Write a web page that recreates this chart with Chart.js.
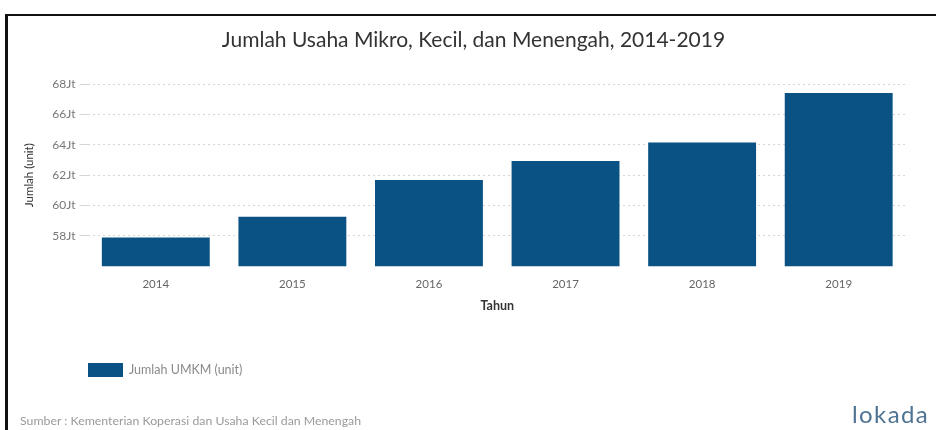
<!DOCTYPE html>
<html>
<head>
<meta charset="utf-8">
<script src="https://cdn.jsdelivr.net/npm/chart.js@4.4.1/dist/chart.umd.min.js"></script>
<style>
  html, body { margin: 0; padding: 0; background: #fff; }
  #wrap { position: relative; width: 936px; height: 430px; overflow: hidden; }
  #frame { position: absolute; left: 5px; top: 14px; width: 960px; height: 460px;
           border-left: 3px solid #111; border-top: 2px solid #111; box-sizing: border-box; }
  #chart { position: absolute; left: 0; top: 0; }
  #source { position: absolute; left: 20px; top: 413px; font: 12.3px Lato, sans-serif; color: #9a9a9a; white-space: nowrap; }
  #logo { position: absolute; left: 852px; top: 399px; font: 24px Lato, sans-serif; color: #4f7392; letter-spacing: 1.4px; }
</style>
</head>
<body>
<div id="wrap">
  <div id="frame"></div>
  <canvas id="chart" width="936" height="430"></canvas>
  <div id="source">Sumber : Kementerian Koperasi dan Usaha Kecil dan Menengah</div>
  <div id="logo">lokada</div>
</div>
<script>
// Number of micro, small and medium enterprises per year (millions of units)
const years = ['2014', '2015', '2016', '2017', '2018', '2019'];
const umkmMillions = [57.9, 59.26, 61.68, 62.93, 64.16, 67.42];
const seriesLabel = 'Jumlah UMKM (unit)';
const barColor = '#0a5283';

// Legend drawn below the plot, left aligned under the axis
const bottomLegend = {
  id: 'bottomLegend',
  afterDraw(chart) {
    const ctx = chart.ctx;
    chart.data.datasets.forEach((ds, i) => {
      const x = 88, y = 363 + i * 20;
      ctx.save();
      ctx.fillStyle = ds.backgroundColor;
      ctx.fillRect(x, y, 35, 14);
      ctx.fillStyle = '#8a8a8a';
      ctx.font = '12.5px Lato, sans-serif';
      ctx.textBaseline = 'middle';
      ctx.fillText(ds.label, x + 41, y + 7);
      ctx.restore();
    });
  }
};

// Nudge the title block slightly right so it sits centred over the page frame
const titleNudge = {
  id: 'titleNudge',
  afterLayout(chart) {
    const t = chart.titleBlock;
    if (t) { t.left += 10; t.right += 10; }
  }
};

new Chart(document.getElementById('chart'), {
  type: 'bar',
  data: {
    labels: years,
    datasets: [{
      label: seriesLabel,
      data: umkmMillions,
      backgroundColor: barColor,
      categoryPercentage: 1,
      barPercentage: 0.79
    }]
  },
  options: {
    responsive: false,
    animation: false,
    layout: { padding: { left: 20, right: 29, top: 0, bottom: 117 } },
    plugins: {
      legend: { display: false },
      tooltip: { enabled: false },
      title: {
        display: true,
        text: 'Jumlah Usaha Mikro, Kecil, dan Menengah, 2014-2019',
        color: '#333',
        font: { family: 'Lato', size: 21, weight: 'normal' },
        padding: { top: 28, bottom: 31 }
      }
    },
    scales: {
      x: {
        grid: { display: false, drawTicks: false },
        border: { display: false },
        ticks: { color: '#666', font: { family: 'Lato', size: 11.5 }, padding: 11 },
        title: { display: true, text: 'Tahun', color: '#333', font: { family: 'Lato', size: 12.5, weight: 'bold' }, padding: { top: -4, bottom: 0 } }
      },
      y: {
        min: 56,
        max: 68,
        afterFit(scale) { scale.width = 67.5; },
        grid: { color: '#d6d6d6', tickLength: 8, drawTicks: true, tickColor: '#d6d6d6' },
        border: { display: false, dash: [2, 3] },
        ticks: {
          stepSize: 2,
          padding: 4,
          color: '#777',
          font: { family: 'Lato', size: 12 },
          callback: (v) => (v === 56 ? null : v + 'Jt')
        },
        title: { display: true, text: 'Jumlah (unit)', color: '#333', font: { family: 'Lato', size: 11.5 }, padding: { top: 2, bottom: 0 } }
      }
    }
  },
  plugins: [bottomLegend, titleNudge]
});
</script>
</body>
</html>
